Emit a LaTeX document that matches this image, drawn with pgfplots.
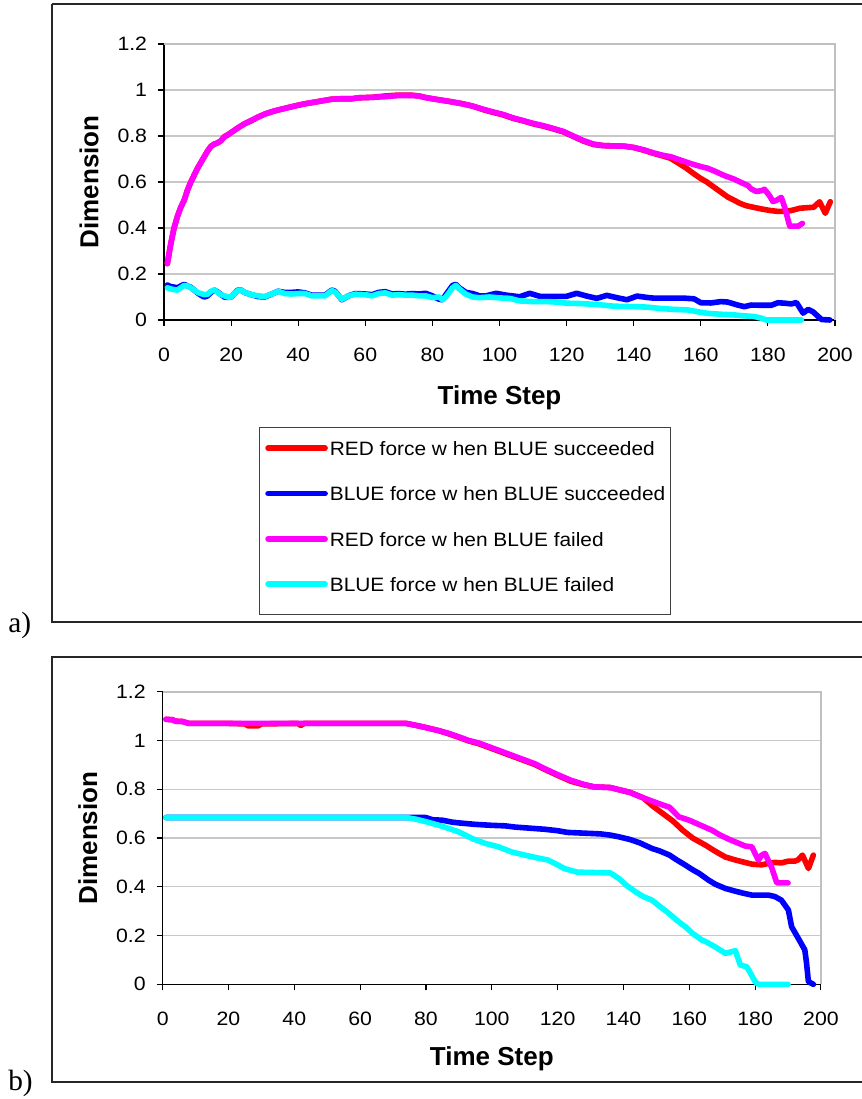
\documentclass[border=0pt]{standalone}
\usepackage{pgfplots}
\pgfplotsset{compat=1.18}
\usepackage{fontspec}
\setmainfont{Liberation Sans}
\newfontfamily\tickfont[FakeStretch=1.1]{Liberation Sans}
\newfontfamily\legfont[FakeStretch=1.08]{Liberation Sans}
\newfontfamily\panelfont{Liberation Serif}

\definecolor{sred}{RGB}{255,0,0}
\definecolor{sblue}{RGB}{0,0,255}
\definecolor{smag}{RGB}{255,0,255}
\definecolor{scyan}{RGB}{0,255,255}
\definecolor{gridgray}{RGB}{200,200,200}
\definecolor{bordergray}{RGB}{192,192,192}

\pgfplotsset{
  panel/.style={
    scale only axis, clip=false,
    xmin=0, xmax=200, ymin=0, ymax=1.2,
    xtick={0,20,...,200},
    ytick={0,0.2,0.4,0.6,0.8,1,1.2},
    axis x line*=bottom, axis y line*=left,
    axis line style={black, line width=1pt, -},
    tick style={black, line width=0.8pt},
    major tick length=4.5pt,
    tick align=outside,
    ymajorgrids,
    grid style={gridgray, line width=0.8pt},
    /pgf/number format/assume math mode=true,
    ticklabel style={font=\fontsize{14.5}{17}\tickfont},
    xticklabel style={anchor=north, inner sep=0pt, yshift=-16pt},
    yticklabel style={anchor=east, inner sep=0pt, xshift=-8pt},
    xlabel={Time Step}, ylabel={Dimension},
    label style={font=\fontsize{19.5}{23}\selectfont\bfseries},
    every axis plot/.append style={line width=4.2pt, line join=round, line cap=round, no markers},
  },
}

\begin{document}
\begin{tikzpicture}
\useasboundingbox (0,0) rectangle (646.5pt,824.25pt);

% panel frames
\draw[black!85, line width=1.1pt] (39pt,821.25pt) -- (39pt,357.75pt) -- (660pt,357.75pt);
\draw[black!85, line width=1.1pt] (660pt,821.25pt) -- (39pt,821.25pt);
\draw[black!85, line width=1.1pt] (660pt,331.5pt) -- (39pt,331.5pt) -- (39pt,12.75pt) -- (660pt,12.75pt);
\node[font=\fontsize{22}{26}\panelfont, anchor=west, inner sep=0pt] at (6pt,355.5pt) {a)};
\node[font=\fontsize{22}{26}\panelfont, anchor=west, inner sep=0pt] at (6pt,12pt) {b)};

% legend frame
\draw[black!75, line width=0.6pt] (194.6pt,504pt) rectangle (503pt,363.75pt);

% ---------------- panel a ----------------
\begin{axis}[panel,
  at={(123pt,584.25pt)}, anchor=south west,
  width=503.25pt, height=207pt,
  xlabel style={at={(axis description cs:0.5,-0.2815)}, anchor=center},
  ylabel style={at={(axis description cs:-0.1118,0.5)}, anchor=center},
  legend cell align=left,
  legend image code/.code={%
    \path (0pt,0pt) -- (42.75pt,0pt);
    \draw[#1, line width=4pt, line cap=round] (2pt,0pt) -- (40.75pt,0pt);},
  legend style={at={(axis description cs:0.15052,-0.43721)}, anchor=north west,
    draw=none, fill=none, inner sep=0pt, column sep=1.5pt, row sep=23pt,
    nodes={inner sep=0pt, text height=11pt, text depth=0pt},
    font=\fontsize{14.5}{17}\legfont},
]
\draw[bordergray, line width=1.5pt] (rel axis cs:0,1) -- (rel axis cs:1,1) -- (rel axis cs:1,0);

% RED force when BLUE succeeded
\addplot[sred] coordinates {
(1,0.245)(2,0.33)(3,0.40)(4,0.45)(5,0.49)(6,0.52)(7,0.565)(8,0.60)(9,0.63)(10,0.66)
(11,0.685)(12,0.71)(13,0.735)(14,0.755)(15,0.765)(16,0.77)(17,0.78)(18,0.797)(19,0.805)(20,0.815)
(22,0.835)(24,0.853)(26,0.866)(28,0.882)(30,0.895)(32,0.905)(34,0.913)(36,0.92)(38,0.927)(40,0.934)
(42,0.94)(44,0.945)(46,0.95)(48,0.955)(50,0.96)(53,0.962)(56,0.962)(58,0.966)(62,0.968)(66,0.974)
(70,0.978)(74,0.977)(76,0.974)(78,0.967)(80,0.962)(83,0.955)(86,0.948)(89,0.94)(92,0.93)(95,0.915)
(98,0.903)(101,0.892)(104,0.877)(107,0.866)(110,0.853)(113,0.843)(116,0.831)(119,0.818)(122,0.798)(125,0.778)
(128,0.763)(131,0.758)(134,0.757)(137,0.756)(140,0.75)(143,0.738)(146,0.724)(149,0.712)(151,0.703)(153,0.685)
(155.8,0.659)(158,0.635)(160,0.615)(161.7,0.601)(163.5,0.582)(165.7,0.559)(168,0.535)(170,0.52)(171.7,0.507)(173.5,0.497)
(175.7,0.49)(178,0.483)(180.7,0.476)(183,0.472)(185.6,0.472)(187.5,0.478)(189.6,0.486)(191.5,0.488)(193.6,0.49)(195.4,0.514)
(197.1,0.464)(198.6,0.514)
};
\addlegendentry{RED force w hen BLUE succeeded}

% BLUE force when BLUE succeeded
\addplot[sblue] coordinates {
(1,0.152)(2,0.145)(3,0.143)(4,0.14)(5,0.148)(6,0.155)(7,0.148)(8,0.142)(9,0.13)(10,0.118)
(11,0.108)(12,0.10)(13,0.105)(14,0.12)(15,0.13)(16,0.122)(17,0.11)(18,0.10)(19,0.098)(20,0.10)
(21,0.115)(22,0.13)(23,0.13)(24,0.12)(26,0.11)(28,0.102)(30,0.10)(32,0.112)(34,0.125)(36,0.12)
(38,0.12)(40,0.122)(42,0.118)(44,0.108)(46,0.108)(48,0.108)(50,0.13)(51,0.125)(53,0.088)(55,0.105)
(57,0.115)(60,0.113)(62,0.11)(64,0.12)(66,0.123)(68,0.113)(70,0.115)(72,0.112)(74,0.115)(76,0.113)
(78,0.116)(80,0.105)(82,0.09)(83,0.088)(84,0.11)(86,0.15)(87,0.155)(88,0.14)(90,0.12)(92,0.115)
(94,0.105)(96,0.105)(99,0.116)(102,0.108)(106,0.101)(109,0.116)(112,0.103)(116,0.103)(120,0.103)(123,0.116)
(126,0.104)(129,0.094)(132,0.107)(135,0.097)(138,0.088)(141,0.104)(144,0.098)(146,0.095)(150,0.095)(155,0.095)
(158,0.092)(160,0.075)(163,0.074)(166,0.08)(168,0.078)(171,0.065)(173,0.058)(175,0.065)(178,0.064)(181,0.064)
(183,0.075)(185,0.073)(187,0.07)(188.5,0.076)(190.5,0.03)(192,0.046)(193.5,0.035)(195,0.015)(196,0.002)(198.5,0)
};
\addlegendentry{BLUE force w hen BLUE succeeded}

% RED force when BLUE failed
\addplot[smag] coordinates {
(1,0.245)(2,0.33)(3,0.40)(4,0.45)(5,0.49)(6,0.52)(7,0.565)(8,0.60)(9,0.63)(10,0.66)
(11,0.685)(12,0.71)(13,0.735)(14,0.755)(15,0.765)(16,0.77)(17,0.78)(18,0.797)(19,0.805)(20,0.815)
(22,0.835)(24,0.853)(26,0.868)(28,0.882)(30,0.895)(32,0.905)(34,0.913)(36,0.92)(38,0.927)(40,0.934)
(42,0.94)(44,0.945)(46,0.95)(48,0.955)(50,0.96)(53,0.962)(56,0.962)(58,0.966)(62,0.968)(66,0.971)
(70,0.976)(74,0.976)(76,0.974)(78,0.967)(80,0.962)(83,0.955)(86,0.948)(89,0.94)(92,0.93)(95,0.917)
(98,0.905)(101,0.894)(104,0.879)(107,0.867)(110,0.855)(113,0.845)(116,0.833)(119,0.82)(122,0.8)(125,0.78)
(128,0.765)(131,0.758)(134,0.757)(137,0.756)(140,0.75)(143,0.74)(146,0.726)(149,0.715)(151,0.71)(154,0.695)
(157,0.68)(160,0.667)(162,0.66)(164,0.648)(167,0.628)(170,0.612)(172,0.598)(174,0.585)(175,0.57)(176.5,0.559)
(178,0.562)(179,0.568)(180.5,0.54)(181.5,0.515)(182.5,0.52)(184,0.533)(185,0.49)(186.5,0.408)(189,0.408)(190.3,0.42)
};
\addlegendentry{RED force w hen BLUE failed}

% BLUE force when BLUE failed
\addplot[scyan] coordinates {
(1,0.14)(2,0.135)(3,0.132)(4,0.13)(5,0.14)(6,0.15)(7,0.148)(8,0.14)(9,0.13)(10,0.12)
(11,0.115)(12,0.11)(13,0.112)(14,0.125)(15,0.13)(16,0.12)(17,0.11)(18,0.105)(19,0.10)(20,0.10)
(21,0.115)(22,0.128)(23,0.13)(24,0.12)(26,0.11)(28,0.105)(30,0.102)(32,0.112)(34,0.125)(36,0.115)
(38,0.113)(40,0.115)(42,0.115)(44,0.105)(46,0.105)(48,0.105)(50,0.128)(51,0.122)(53,0.09)(55,0.105)
(57,0.112)(60,0.11)(62,0.105)(64,0.115)(66,0.118)(68,0.108)(70,0.11)(72,0.108)(74,0.108)(76,0.105)
(78,0.105)(80,0.097)(82,0.1)(83,0.088)(84,0.1)(86,0.14)(87,0.15)(88,0.135)(90,0.112)(92,0.1)
(94,0.097)(97,0.1)(100,0.096)(103,0.094)(106,0.083)(110,0.08)(114,0.08)(117,0.078)(120,0.073)(125,0.071)
(130,0.066)(134,0.06)(140,0.058)(144,0.056)(148,0.05)(152,0.046)(156,0.044)(159,0.036)(162,0.029)(166,0.025)
(170,0.022)(173,0.018)(176,0.015)(178,0.008)(179.5,0)(190,0)
};
\addlegendentry{BLUE force w hen BLUE failed}
\end{axis}

% ---------------- panel b ----------------
\begin{axis}[panel,
  at={(122pt,86pt)}, anchor=south west,
  width=493.7pt, height=219.45pt,
  xlabel style={at={(axis description cs:0.5,-0.2553)}, anchor=center},
  ylabel style={at={(axis description cs:-0.1138,0.5)}, anchor=center},
]
\draw[bordergray, line width=1.5pt] (rel axis cs:0,1) -- (rel axis cs:1,1) -- (rel axis cs:1,0);

% RED force when BLUE succeeded
\addplot[sred] coordinates {
(1,1.087)(3,1.085)(4,1.079)(6,1.078)(8,1.07)(20,1.07)(25,1.068)(26,1.06)(29,1.06)(30,1.068)
(41,1.07)(42,1.062)(43,1.07)(74,1.07)(77,1.062)(80,1.053)(84,1.04)(87,1.027)(90,1.013)(93,0.998)
(96,0.987)(99,0.972)(102,0.957)(106,0.937)(110,0.917)(113,0.902)(116,0.882)(120,0.857)(124,0.833)(128,0.818)
(131,0.81)(136,0.807)(139,0.797)(142,0.787)(146,0.765)(149,0.73)(152,0.70)(155,0.67)(158,0.632)(161,0.6)
(164.9,0.571)(167,0.553)(169,0.537)(171,0.522)(174,0.51)(176,0.503)(179,0.493)(182,0.49)(184,0.496)(186,0.5)
(188,0.498)(190,0.505)(192,0.505)(193,0.51)(194.4,0.53)(196.2,0.475)(197.7,0.53)
};

% BLUE force when BLUE succeeded
\addplot[sblue] coordinates {
(1,0.684)(74,0.684)(80,0.684)(82,0.675)(85,0.673)(88,0.665)(90,0.662)(95,0.656)(100,0.652)(104,0.65)
(107,0.645)(112,0.64)(116,0.636)(120,0.63)(123,0.623)(128,0.62)(133,0.617)(136,0.612)(138.6,0.605)(142,0.594)
(145,0.58)(148.7,0.557)(151,0.547)(154,0.53)(156,0.512)(158.8,0.489)(161,0.47)(163,0.455)(165.9,0.427)(168,0.41)
(171,0.393)(174,0.382)(176,0.375)(179,0.366)(184,0.366)(186,0.36)(188,0.345)(190.1,0.305)(191.1,0.236)(193.1,0.189)
(195.1,0.141)(195.6,0.09)(196.2,0.011)(197.7,0)
};

% RED force when BLUE failed
\addplot[smag] coordinates {
(1,1.087)(3,1.085)(4,1.079)(6,1.078)(8,1.07)(74,1.07)(77,1.062)(80,1.053)(84,1.04)(87,1.029)
(90,1.015)(93,1.0)(96,0.99)(99,0.975)(102,0.96)(106,0.94)(110,0.92)(113,0.905)(116,0.885)(120,0.86)
(124,0.837)(128,0.82)(131,0.81)(136,0.807)(139,0.797)(142,0.787)(145,0.77)(148,0.755)(151,0.74)(154,0.726)
(156.8,0.687)(160,0.673)(163,0.655)(166.9,0.632)(169,0.615)(172,0.595)(174,0.584)(177,0.567)(179,0.564)(181,0.509)
(182,0.53)(183,0.537)(185,0.48)(186.6,0.416)(190,0.416)
};

% BLUE force when BLUE failed
\addplot[scyan] coordinates {
(1,0.684)(74,0.684)(77,0.677)(80,0.667)(84,0.652)(87,0.639)(90,0.625)(94,0.598)(98,0.578)(102,0.564)
(106,0.543)(110,0.53)(114,0.518)(117,0.51)(120,0.49)(122,0.475)(126,0.46)(136,0.457)(138.6,0.434)(141,0.405)
(143.6,0.38)(146,0.36)(148.7,0.345)(151,0.32)(153.8,0.291)(156,0.265)(158.8,0.236)(161,0.209)(163.8,0.182)(165,0.175)
(167.8,0.154)(171,0.127)(174,0.138)(175.5,0.079)(177.5,0.072)(180,0.011)(181,0)(190,0)
};
\end{axis}
\end{tikzpicture}
\end{document}
